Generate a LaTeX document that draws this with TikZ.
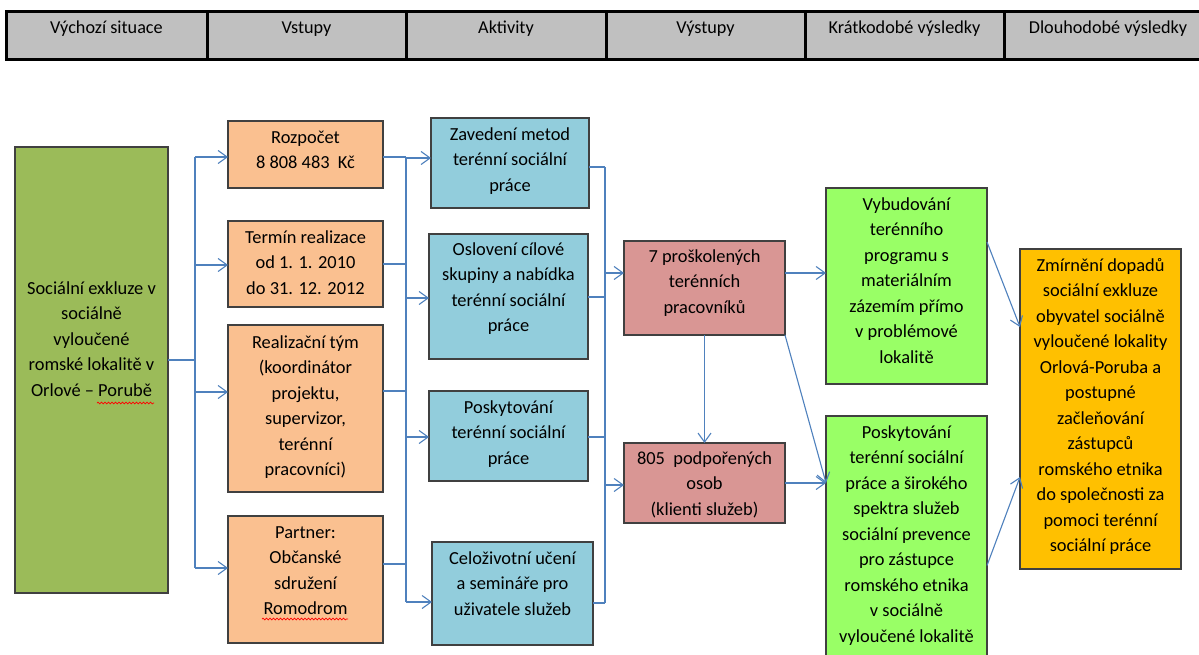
\documentclass[tikz,border=0pt]{standalone}
\usepackage{fontspec}
\setmainfont{Carlito}
\usetikzlibrary{arrows.meta,decorations.pathmorphing}
\definecolor{hdr}{HTML}{C0C0C0}
\definecolor{srcg}{HTML}{9BBB59}
\definecolor{orng}{HTML}{FAC090}
\definecolor{blu}{HTML}{92CDDC}
\definecolor{redb}{HTML}{D99694}
\definecolor{grn}{HTML}{99FF66}
\definecolor{goldb}{HTML}{FFC000}
\definecolor{cnc}{HTML}{4F81BD}
\definecolor{bline}{HTML}{404040}
\tikzset{
  bx/.style={draw=bline, line width=1.4pt, inner sep=0pt, outer sep=0pt},
  hcell/.style={draw=black, line width=3pt, fill=hdr, inner sep=0pt, outer sep=0pt},
  tx/.style={align=center, inner sep=0pt, font=\fontsize{18.4}{25.5}\selectfont},
  htx/.style={inner sep=0pt, font=\fontsize{18.2}{22}\selectfont},
  cn/.style={draw=cnc, line width=1.1pt},
  ar/.style={cn, -{Straight Barb[length=9pt,width=13pt]}},
  squig/.style={draw=red, line width=0.7pt, decorate, decoration={snake, segment length=3.5pt, amplitude=0.9pt}}
}
\newcommand\mkbox[6]{%
  \node[bx, fill=#6, minimum width={#4-#2}, minimum height={#5-#3}] (#1) at ({(#2+#4)/2},{(#3+#5)/2}) {};}
\newcommand\mktext[4]{%
  \node[tx, anchor=north] (#1) at ([yshift=-#3pt]#2.north) {\strut #4};}
\newcommand\mkhead[4]{%
  \node[hcell, minimum width={#3-#2}, minimum height=48] (#1) at ({(#2+#3)/2},35.5) {};
  \node[htx, anchor=base] (#1t) at ({(#2+#3)/2},34) {#4};}
\begin{document}
\begin{tikzpicture}[x=1pt,y=-1pt]
\clip (0,0) rectangle (1199,655);
\fill[white] (0,0) rectangle (1199,655);
% header
\mkhead{hA}{6}{207}{Výchozí situace}
\mkhead{hB}{207}{406}{Vstupy}
\mkhead{hC}{406}{606}{Aktivity}
\mkhead{hD}{606}{805}{Výstupy}
\mkhead{hE}{805}{1004}{Krátkodobé výsledky}
\mkhead{hF}{1004}{1212}{Dlouhodobé výsledky}
% boxes
\mkbox{src}{15}{147}{168}{593}{srcg}
\mkbox{o1}{228}{121}{383}{188}{orng}
\mkbox{o2}{228}{221}{383}{307}{orng}
\mkbox{o3}{228}{325}{383}{492}{orng}
\mkbox{o4}{228}{516}{383}{643}{orng}
\mkbox{b1}{431}{118}{589}{208}{blu}
\mkbox{b2}{429}{234}{588}{359}{blu}
\mkbox{b3}{429}{391}{588}{481}{blu}
\mkbox{b4}{432}{542}{593}{645}{blu}
\mkbox{r1}{624}{241}{785}{335}{redb}
\mkbox{r2}{624}{443}{785}{523}{redb}
\mkbox{g1}{826}{188}{987}{384}{grn}
\mkbox{g2}{826}{416}{987}{675}{grn}
\mkbox{gold}{1020}{249}{1181}{569}{goldb}
% texts
\mktext{srct}{src}{129}{Sociální exkluze v\\sociálně\\vyloučené\\romské lokalitě v\\Orlové – Porubě}
\mktext{o1t}{o1}{4}{Rozpočet\\8 808 483~ Kč}
\mktext{o2t}{o2}{4}{Termín realizace\\od 1. 1. 2010\\do 31. 12. 2012}
\mktext{o3t}{o3}{5}{Realizační tým\\(koordinátor\\projektu,\\supervizor,\\terénní\\pracovníci)}
\mktext{o4t}{o4}{4}{Partner:\\Občanské\\sdružení\\Romodrom}
\mktext{b1t}{b1}{4}{Zavedení metod\\terénní sociální\\práce}
\mktext{b2t}{b2}{3}{Oslovení cílové\\skupiny a nabídka\\terénní sociální\\práce}
\mktext{b3t}{b3}{4}{Poskytování\\terénní sociální\\práce}
\mktext{b4t}{b4}{4}{Celoživotní učení\\a semináře pro\\uživatele služeb}
\mktext{r1t}{r1}{3}{7 proškolených\\terénních\\pracovníků}
\mktext{r2t}{r2}{3}{805~ podpořených\\osob\\(klienti služeb)}
\mktext{g1t}{g1}{4}{Vybudování\\terénního\\programu s\\materiálním\\zázemím přímo\\v problémové\\lokalitě}
\mktext{g2t}{g2}{4}{Poskytování\\terénní sociální\\práce a širokého\\spektra služeb\\sociální prevence\\pro zástupce\\romského etnika\\v sociálně\\vyloučené lokalitě}
\mktext{goldt}{gold}{4}{Zmírnění dopadů\\sociální exkluze\\obyvatel sociálně\\vyloučené lokality\\Orlová-Poruba a\\postupné\\začleňování\\zástupců\\romského etnika\\do společnosti za\\pomoci terénní\\sociální práce}
% spell-check underlines
\draw[squig] (97,403) -- (154,403);
\draw[squig] (262,619) -- (348,619);
% bus 1
\coordinate (s1) at (195,360);
\coordinate (a1) at (195,157);
\coordinate (a2) at (195,265);
\coordinate (a3) at (195,392);
\coordinate (a4) at (195,568);
\draw[cn] (src.east |- s1) -- (s1);
\draw[cn] (a1) -- (a4);
\draw[ar] (a1) -- (o1.west |- a1);
\draw[ar] (a2) -- (o2.west |- a2);
\draw[ar] (a3) -- (o3.west |- a3);
\draw[ar] (a4) -- (o4.west |- a4);
% bus 2
\coordinate (c1) at (406,157);
\coordinate (c2) at (406,264);
\coordinate (c3) at (406,391);
\coordinate (c4) at (406,564);
\coordinate (d1) at (406,158);
\coordinate (d2) at (406,298);
\coordinate (d3) at (406,437);
\coordinate (d4) at (406,602);
\draw[cn] (o1.east |- c1) -- (c1);
\draw[cn] (o2.east |- c2) -- (c2);
\draw[cn] (o3.east |- c3) -- (c3);
\draw[cn] (o4.east |- c4) -- (c4);
\draw[cn] (c1) -- (d4);
\draw[ar] (d1) -- (b1.west |- d1);
\draw[ar] (d2) -- (b2.west |- d2);
\draw[ar] (d3) -- (b3.west |- d3);
\draw[ar] (d4) -- (b4.west |- d4);
% bus 3
\coordinate (e1) at (605,167);
\coordinate (e2) at (605,297);
\coordinate (e3) at (605,437);
\coordinate (e4) at (605,603);
\coordinate (f1) at (605,273);
\coordinate (f2) at (605,485);
\draw[cn] (b1.east |- e1) -- (e1);
\draw[cn] (b2.east |- e2) -- (e2);
\draw[cn] (b3.east |- e3) -- (e3);
\draw[cn] (b4.east |- e4) -- (e4);
\draw[cn] (e1) -- (e4);
\draw[ar] (f1) -- (r1.west |- f1);
\draw[ar] (f2) -- (r2.west |- f2);
% outputs to outcomes
\coordinate (k1) at (826,483);
\draw[ar] (r1.south) -- (r2.north);
\draw[ar] (r1.east |- f1) -- (g1.west |- f1);
\draw[ar] (r1.south east) -- (k1);
\draw[ar] (r2.east) -- (g2.west |- r2.east);
\draw[ar] ([yshift=44pt]g1.east) -- ([yshift=82pt]gold.west);
\draw[ar] ([yshift=-20pt]g2.east) -- ([yshift=-68pt]gold.west);
\end{tikzpicture}
\end{document}
